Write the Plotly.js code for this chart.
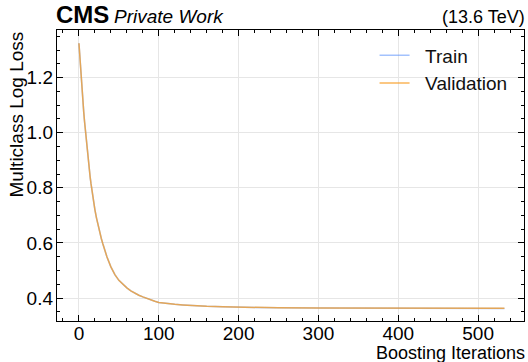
<!DOCTYPE html>
<html>
<head>
<meta charset="utf-8">
<script src="https://cdn.plot.ly/plotly-3.0.1.min.js"></script>
<style>html,body{margin:0;padding:0;background:#fff;}#chart{width:528px;height:362px;}</style>
</head>
<body>
<div id="chart"></div>
<script>
const iterations = [0,1,2,3,4,5,6,7,8,9,10,11,12,13,14,15,16,18,20,22,24,26,28,30,32,35,40,45,50,55,60,65,70,75,80,85,90,95,100,110,120,130,140,160,180,200,250,300,350,400,450,500,533];
const validLoss = [1.325,1.278,1.233,1.191,1.150,1.112,1.075,1.041,1.008,0.976,0.946,0.918,0.891,0.865,0.840,0.817,0.795,0.754,0.720,0.690,0.662,0.638,0.616,0.596,0.576,0.550,0.513,0.485,0.464,0.449,0.437,0.426,0.417,0.410,0.404,0.398,0.393,0.388,0.384,0.380,0.377,0.375,0.373,0.370,0.368,0.3663,0.3645,0.3636,0.3631,0.3628,0.3627,0.3626,0.3626];
const trainLoss = [1.325,1.278,1.233,1.191,1.150,1.112,1.075,1.041,1.008,0.976,0.946,0.918,0.891,0.865,0.840,0.817,0.795,0.754,0.720,0.690,0.662,0.638,0.616,0.596,0.576,0.550,0.513,0.485,0.464,0.449,0.437,0.426,0.417,0.410,0.404,0.398,0.393,0.388,0.384,0.380,0.377,0.375,0.373,0.370,0.368,0.3662,0.3643,0.3634,0.3629,0.3626,0.3624,0.3623,0.3622];
const seriesNames = ["Train", "Validation"];
const xTicks = [0, 100, 200, 300, 400, 500];
const yTicks = [0.4, 0.6, 0.8, 1.0, 1.2];
const yTickText = ["0.4", "0.6", "0.8", "1.0", "1.2"];

const FONT = "Liberation Sans, Arial, Helvetica, sans-serif";
const NB = "\u00a0\u00a0";

const traces = [
  {x: iterations, y: trainLoss, name: NB + seriesNames[0], mode: "lines",
   line: {color: "rgba(87,144,252,0.55)", width: 1.5}},
  {x: iterations, y: validLoss, name: NB + seriesNames[1], mode: "lines",
   line: {color: "rgba(248,156,32,0.75)", width: 1.5}}
];

const axisCommon = {
  showline: true, linecolor: "#000", linewidth: 1.2, mirror: "allticks",
  ticks: "inside", ticklen: 6, tickwidth: 1, tickcolor: "#000",
  showgrid: true, gridcolor: "#e6e6e6", gridwidth: 1, zeroline: false,
  tickfont: {family: FONT, size: 19, color: "#000"}
};

const layout = {
  width: 528, height: 362,
  margin: {l: 57, r: 4, t: 30, b: 41},
  paper_bgcolor: "#fff", plot_bgcolor: "#fff",
  font: {family: FONT, color: "#000"},
  showlegend: true,
  legend: {x: 0.68, y: 0.978, xanchor: "left", yanchor: "top",
           bgcolor: "rgba(0,0,0,0)", font: {family: FONT, size: 19, color: "#111"},
           tracegroupgap: 0, itemwidth: 30},
  xaxis: Object.assign({}, axisCommon, {
    range: [-27.5, 557.5], tickvals: xTicks, ticklabelstandoff: -5,
    minor: {dtick: 20, ticks: "inside", ticklen: 3, tickcolor: "#000", showgrid: false}
  }),
  yaxis: Object.assign({}, axisCommon, {
    range: [0.3165, 1.373], tickvals: yTicks, ticktext: yTickText, ticklabelstandoff: -1,
    minor: {dtick: 0.05, ticks: "inside", ticklen: 3, tickcolor: "#000", showgrid: false}
  }),
  annotations: [
    {text: "<b>CMS</b>", xref: "paper", yref: "paper", x: 0, y: 1, xanchor: "left", yanchor: "bottom",
     xshift: -3, yshift: 0, showarrow: false, font: {family: FONT, size: 24, color: "#000"}},
    {text: "<i>Private Work</i>", xref: "paper", yref: "paper", x: 0, y: 1, xanchor: "left", yanchor: "bottom",
     xshift: 55, yshift: 1, showarrow: false, font: {family: FONT, size: 19, color: "#000"}},
    {text: "(13.6 TeV)", xref: "paper", yref: "paper", x: 1, y: 1, xanchor: "right", yanchor: "bottom",
     xshift: 3, yshift: 1, showarrow: false, font: {family: FONT, size: 18, color: "#000"}},
    {text: "Multiclass Log Loss", xref: "paper", yref: "paper", x: 0, y: 1, xanchor: "left", yanchor: "top",
     xshift: -54, yshift: 0, textangle: -90, showarrow: false, font: {family: FONT, size: 19, color: "#000"}},
    {text: "Boosting Iterations", xref: "paper", yref: "paper", x: 1, y: 0, xanchor: "right", yanchor: "top",
     xshift: 3, yshift: -19.5, showarrow: false, font: {family: FONT, size: 18, color: "#000"}}
  ]
};

Plotly.newPlot("chart", traces, layout, {displayModeBar: false, staticPlot: true});
</script>
</body>
</html>
